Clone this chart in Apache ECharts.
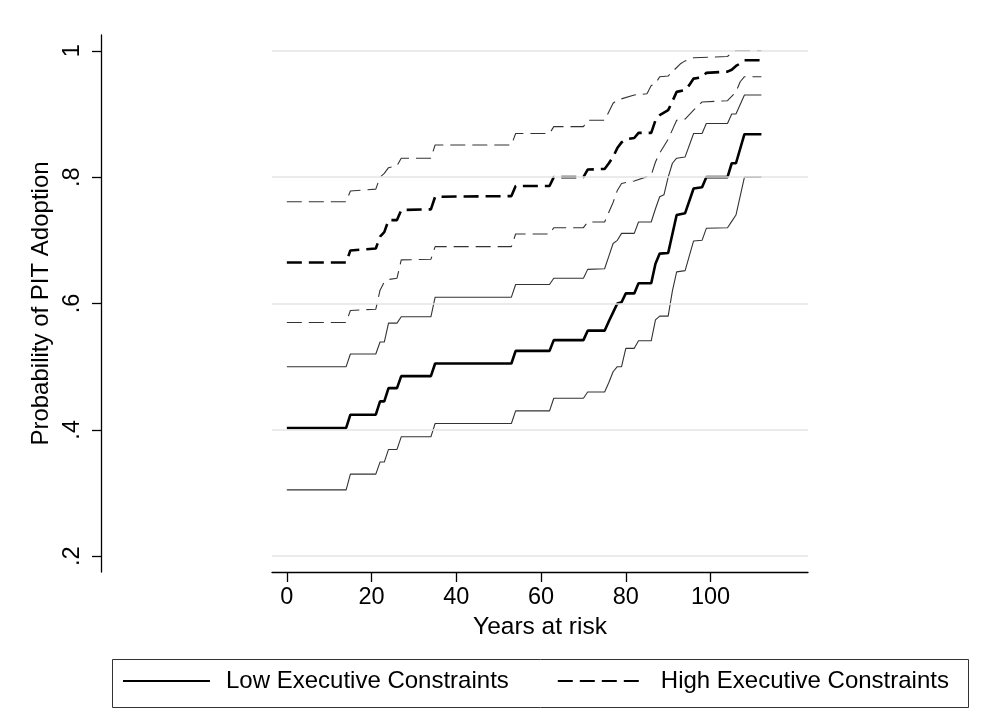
<!DOCTYPE html>
<html>
<head>
<meta charset="utf-8">
<script src="https://cdn.jsdelivr.net/npm/echarts@6/dist/echarts.min.js"></script>
<style>
html,body{margin:0;padding:0;background:#fff;}
#chart{width:994px;height:728px;}
</style>
</head>
<body>
<div id="chart"></div>
<script>
// Tick labels
var xTicks = [0, 20, 40, 60, 80, 100];
var yTicks = [0.2, 0.4, 0.6, 0.8, 1];

// Series names
var seriesNames = ['Low Executive Constraints', 'High Executive Constraints'];

// Low executive constraints: estimate and 95% band  [years at risk, probability]
var lowMid = [[0,.403],[14,.403],[15,.424],[21,.424],[22,.445],[23,.445],[24,.466],[26,.466],[27,.485],[34,.485],[35,.505],[53,.505],[54,.525],[62,.525],[63,.542],[70,.542],[71,.557],[75,.557],[76,.572],[77,.586],[78,.600],[79,.602],[80,.616],[82,.616],[83,.632],[86,.632],[87,.663],[88,.679],[90,.680],[91,.710],[92,.740],[94,.743],[96,.782],[98,.784],[99,.800],[104,.800],[105,.822],[106,.822],[108,.868],[112,.868]];
var lowUpper = [[0,.500],[14,.500],[15,.520],[21,.520],[22,.539],[23,.539],[24,.569],[26,.569],[27,.579],[34,.579],[35,.610],[53,.610],[54,.630],[62,.630],[63,.640],[70,.640],[71,.654],[75,.655],[76,.675],[77,.695],[78,.700],[79,.711],[82,.711],[83,.729],[86,.729],[87,.750],[88,.769],[89,.772],[90,.800],[91,.822],[92,.830],[94,.832],[96,.869],[98,.869],[99,.885],[104,.885],[105,.900],[106,.900],[108,.930],[112,.930]];
var lowLower = [[0,.305],[14,.305],[15,.330],[21,.330],[22,.349],[23,.349],[24,.369],[26,.369],[27,.389],[34,.389],[35,.410],[53,.410],[54,.430],[62,.430],[63,.450],[70,.450],[71,.460],[75,.460],[76,.475],[77,.492],[78,.500],[79,.500],[80,.529],[82,.529],[83,.541],[86,.541],[87,.574],[88,.580],[90,.580],[91,.620],[92,.650],[94,.652],[96,.699],[98,.700],[99,.719],[104,.720],[105,.730],[106,.740],[108,.800],[112,.800]];

// High executive constraints: estimate and 95% band
var highMid = [[0,.665],[14,.665],[15,.684],[21,.687],[22,.706],[23,.713],[24,.732],[26,.732],[27,.748],[34,.749],[35,.769],[53,.770],[54,.786],[62,.786],[63,.800],[70,.800],[71,.812],[75,.813],[76,.822],[77,.832],[78,.846],[79,.855],[80,.860],[82,.862],[83,.870],[86,.870],[87,.890],[88,.898],[90,.906],[91,.920],[92,.935],[94,.938],[95,.946],[96,.956],[98,.958],[99,.965],[104,.967],[105,.970],[106,.976],[107,.980],[108,.985],[112,.985]];
var highUpper = [[0,.761],[14,.761],[15,.778],[21,.781],[22,.800],[23,.806],[24,.815],[26,.818],[27,.830],[34,.830],[35,.851],[53,.851],[54,.869],[62,.869],[63,.880],[70,.880],[71,.890],[75,.890],[77,.917],[78,.922],[82,.930],[85,.932],[86,.945],[87,.948],[88,.959],[90,.960],[91,.967],[93,.980],[94,.984],[96,.989],[104,.991],[105,.997],[106,1.0],[112,1.0]];
var highLower = [[0,.570],[14,.570],[15,.589],[21,.591],[22,.621],[23,.634],[24,.638],[26,.640],[27,.669],[34,.670],[35,.690],[53,.690],[54,.710],[62,.710],[63,.720],[70,.720],[71,.729],[75,.729],[77,.760],[78,.779],[79,.790],[82,.794],[86,.803],[87,.824],[88,.838],[90,.860],[92,.890],[94,.892],[96,.906],[98,.919],[104,.921],[106,.935],[107,.951],[108,.959],[112,.959]];

var FONT = "'Liberation Sans', Arial, Helvetica, sans-serif";
var chart = echarts.init(document.getElementById('chart'), null, {renderer: 'canvas'});

function lineSeries(name, data, width, color, dashed, z) {
  return {
    name: name, type: 'line', data: data, symbol: 'none', showSymbol: false,
    smooth: false, animation: false, silent: true, z: z,
    lineStyle: {color: color, width: width, type: dashed ? [15, 7] : 'solid'},
    itemStyle: {color: color}
  };
}

var option = {
  backgroundColor: '#ffffff',
  animation: false,
  textStyle: {fontFamily: FONT, color: '#000'},
  grid: {left: 272, right: 186, top: 35, bottom: 156, containLabel: false},
  xAxis: {
    type: 'value', min: -3.5, max: 123,
    name: 'Years at risk', nameLocation: 'middle', nameGap: 39,
    nameTextStyle: {fontFamily: FONT, fontSize: 24.5, color: '#000'},
    axisLine: {show: true, onZero: false, lineStyle: {color: '#000', width: 1.3}},
    axisTick: {show: true, length: 10, customValues: xTicks, lineStyle: {color: '#000', width: 1.3}},
    axisLabel: {customValues: xTicks, margin: 14, fontFamily: FONT, fontSize: 23.5, color: '#000'},
    splitLine: {show: false}
  },
  yAxis: {
    type: 'value', min: 0.175, max: 1.025, offset: 171,
    name: 'Probability of PIT Adoption', nameLocation: 'middle', nameGap: 42, nameRotate: 90,
    nameTextStyle: {fontFamily: FONT, fontSize: 24, color: '#000'},
    axisLine: {show: true, onZero: false, lineStyle: {color: '#000', width: 1.3}},
    axisTick: {show: true, length: 9, customValues: yTicks, lineStyle: {color: '#000', width: 1.3}},
    axisLabel: {
      customValues: yTicks, margin: 16, rotate: 90, fontFamily: FONT, fontSize: 23.5, color: '#000',
      formatter: function (v) { return v >= 1 ? '1' : String(+v.toFixed(2)).replace(/^0/, ''); }
    },
    splitLine: {show: false}
  },
  legend: {
    show: true, left: 122, top: 669, orient: 'horizontal', padding: 0,
    data: seriesNames,
    itemWidth: 87, itemHeight: 14, itemGap: 48,
    itemStyle: {opacity: 0, color: 'transparent', borderWidth: 0},
    textStyle: {fontFamily: FONT, fontSize: 24, color: '#000', padding: [0, 0, 0, 11]},
    selectedMode: false
  },
  graphic: [{
    type: 'rect', left: 110, top: 657, silent: true,
    shape: {width: 856, height: 48},
    style: {fill: 'none', stroke: '#333', lineWidth: 1}
  }],
  series: [
    {
      name: 'grid', type: 'line', data: [], silent: true, z: 1, symbol: 'none',
      markLine: {
        silent: true, symbol: ['none', 'none'], animation: false,
        label: {show: false},
        lineStyle: {color: '#e4e4e4', width: 1.6, type: 'solid'},
        emphasis: {disabled: true},
        data: yTicks.map(function (v) { return {yAxis: v}; })
      }
    },
    lineSeries('Low lower', lowLower, 1.1, '#333', false, 2),
    lineSeries('Low upper', lowUpper, 1.1, '#333', false, 2),
    lineSeries('High lower', highLower, 1.1, '#333', true, 2),
    lineSeries('High upper', highUpper, 1.1, '#333', true, 2),
    lineSeries(seriesNames[0], lowMid, 2.6, '#000', false, 3),
    lineSeries(seriesNames[1], highMid, 2.6, '#000', true, 3)
  ]
};
chart.setOption(option);
</script>
</body>
</html>
